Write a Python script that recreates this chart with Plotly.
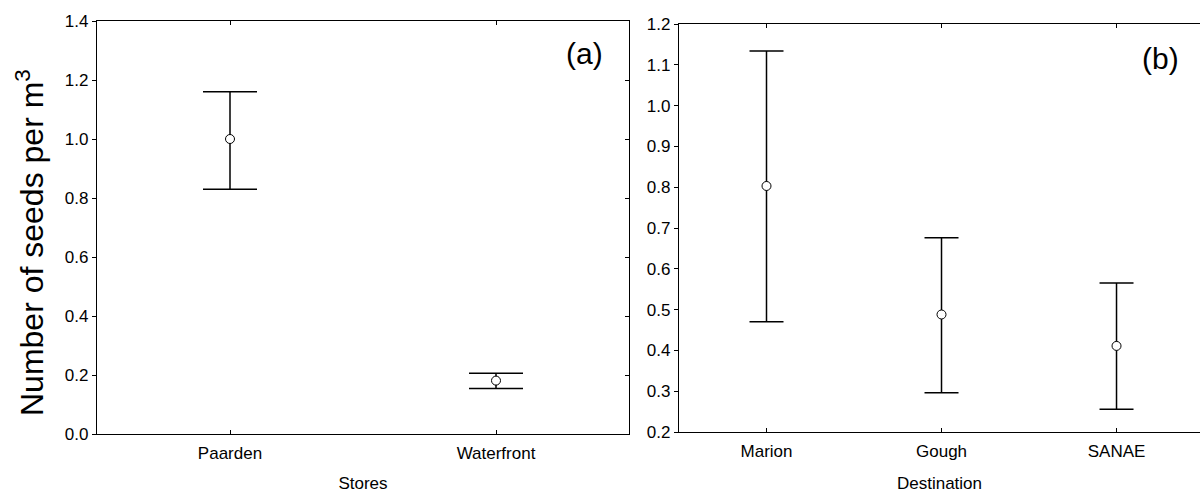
import plotly.graph_objects as go

# Panel (a): seeds per m3 by store
stores = ["Paarden", "Waterfront"]
stores_mean = [1.0, 0.181]
stores_upper = [1.160, 0.206]
stores_lower = [0.830, 0.154]

# Panel (b): seeds per m3 by destination
destinations = ["Marion", "Gough", "SANAE"]
dest_mean = [0.803, 0.488, 0.411]
dest_upper = [1.134, 0.676, 0.565]
dest_lower = [0.470, 0.296, 0.256]

FONT = "Arial, Liberation Sans, sans-serif"
W, H = 1200, 493


def err(mean, upper, lower):
    return ([u - m for u, m in zip(upper, mean)],
            [m - l for m, l in zip(mean, lower)])


marker = dict(symbol="circle", size=9, color="white",
              line=dict(color="black", width=1))

fig = go.Figure()

ea_plus, ea_minus = err(stores_mean, stores_upper, stores_lower)
fig.add_trace(go.Scatter(
    x=stores, y=stores_mean, mode="markers", marker=marker,
    error_y=dict(type="data", array=ea_plus, arrayminus=ea_minus,
                 color="black", thickness=1.5, width=27),
    xaxis="x", yaxis="y", showlegend=False, hoverinfo="x+y"))
# same points on the right-hand tick axis of panel (a) so it gets drawn
fig.add_trace(go.Scatter(
    x=stores, y=stores_mean, mode="markers",
    marker=dict(size=1, color="rgba(0,0,0,0)"),
    xaxis="x", yaxis="y3", showlegend=False, hoverinfo="skip"))

eb_plus, eb_minus = err(dest_mean, dest_upper, dest_lower)
fig.add_trace(go.Scatter(
    x=destinations, y=dest_mean, mode="markers", marker=marker,
    error_y=dict(type="data", array=eb_plus, arrayminus=eb_minus,
                 color="black", thickness=1.5, width=17),
    xaxis="x2", yaxis="y2", showlegend=False, hoverinfo="x+y"))

tickfont = dict(family=FONT, size=17, color="black")
titlefont = dict(family=FONT, size=17, color="black")

ax_common = dict(showline=True, linecolor="black", linewidth=1.2,
                 showgrid=False, zeroline=False, tickcolor="black",
                 ticklen=4, tickwidth=1, tickfont=tickfont,
                 automargin=False)

a_x0, a_x1 = 97 / W, 629 / W
a_y0, a_y1 = (H - 434) / H, (H - 21) / H
b_x0, b_x1 = 679 / W, 1.0
b_y0, b_y1 = (H - 432) / H, (H - 24) / H

fig.update_layout(
    width=W, height=H,
    margin=dict(l=0, r=0, t=0, b=0, autoexpand=False),
    paper_bgcolor="white", plot_bgcolor="white",
    font=dict(family=FONT, color="black"),
    xaxis=dict(**ax_common, domain=[a_x0, a_x1], anchor="y",
               range=[-0.5, 1.5], ticks="inside", mirror="ticks",
               ticklabelstandoff=3,
               title=dict(text="Stores", font=titlefont, standoff=22)),
    yaxis=dict(**ax_common, domain=[a_y0, a_y1], anchor="x",
               range=[0, 1.4], dtick=0.2, tickformat=".1f",
               ticks="outside", mirror=False),
    yaxis3=dict(**ax_common, overlaying="y", side="right", anchor="x",
                range=[0, 1.4], dtick=0.2, ticks="inside",
                showticklabels=False),
    xaxis2=dict(**ax_common, domain=[b_x0, b_x1], anchor="y2",
                range=[-0.5, 2.477], ticks="inside", mirror="ticks",
                ticklabelstandoff=3,
                title=dict(text="Destination", font=titlefont, standoff=22)),
    yaxis2=dict(**ax_common, domain=[b_y0, b_y1], anchor="x2",
                range=[0.2, 1.2], dtick=0.1, tickformat=".1f",
                ticks="outside", mirror=False),
    annotations=[
        dict(text="Number of seeds per m<sup>3</sup>", textangle=-90,
             xref="paper", yref="paper", x=30 / W, y=(H - 243) / H,
             xanchor="center", yanchor="middle", showarrow=False,
             font=dict(family=FONT, size=32, color="black")),
        dict(text="(a)", xref="paper", yref="paper",
             x=584 / W, y=(H - 53) / H, xanchor="center", yanchor="middle",
             showarrow=False, font=dict(family=FONT, size=30, color="black")),
        dict(text="(b)", xref="paper", yref="paper",
             x=1160 / W, y=(H - 59) / H, xanchor="center", yanchor="middle",
             showarrow=False, font=dict(family=FONT, size=30, color="black")),
    ],
)

fig.write_html("out.html")
